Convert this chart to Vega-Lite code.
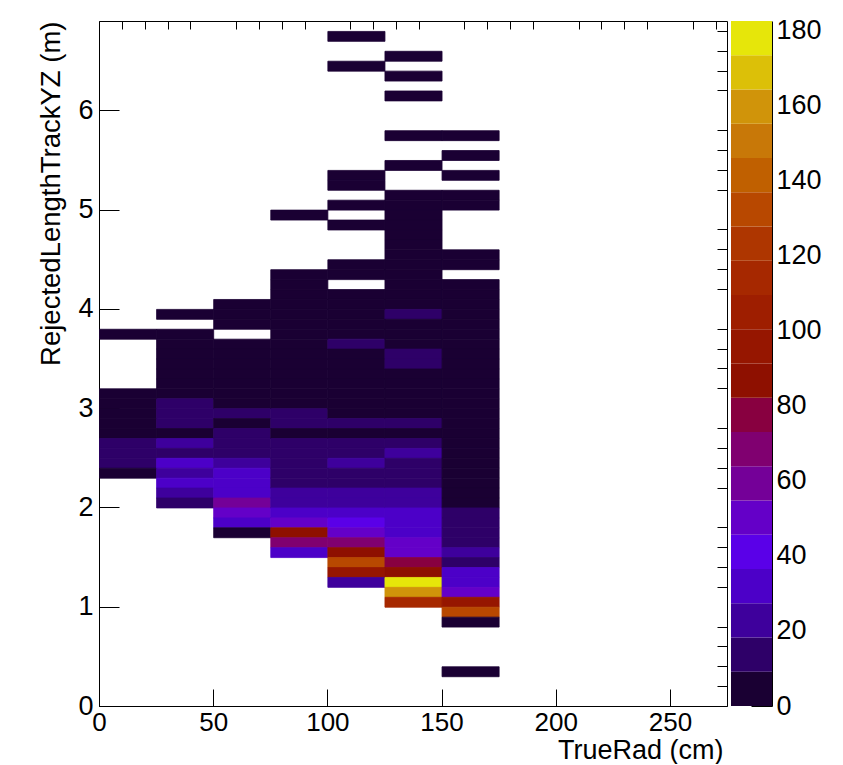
{
  "$schema": "https://vega.github.io/schema/vega-lite/v6.json",
  "background": "white",
  "padding": {"left": 36, "top": 16, "right": 0, "bottom": 0},
  "bounds": "flush",
  "spacing": 4,
  "config": {
    "font": "Liberation Sans",
    "view": {"stroke": null},
    "axis": {
      "labelFont": "Liberation Sans",
      "titleFont": "Liberation Sans",
      "labelFontSize": 27,
      "titleFontSize": 27.5,
      "titleFontWeight": "normal",
      "labelColor": "black",
      "titleColor": "black",
      "tickColor": "black",
      "domainColor": "black",
      "grid": false,
      "labelFlush": false,
      "labelOverlap": false,
      "zindex": 1
    }
  },
  "datasets": {
    "hist": [
      {"r": 0, "l": 3.7, "n": 2}, {"r": 0, "l": 3.1, "n": 3}, {"r": 0, "l": 3.0, "n": 5}, {"r": 0, "l": 2.9, "n": 6},
      {"r": 0, "l": 2.8, "n": 4}, {"r": 0, "l": 2.7, "n": 7}, {"r": 0, "l": 2.6, "n": 13}, {"r": 0, "l": 2.5, "n": 15},
      {"r": 0, "l": 2.4, "n": 14}, {"r": 0, "l": 2.3, "n": 6},

      {"r": 25, "l": 3.9, "n": 1}, {"r": 25, "l": 3.7, "n": 2}, {"r": 25, "l": 3.6, "n": 3}, {"r": 25, "l": 3.5, "n": 3},
      {"r": 25, "l": 3.4, "n": 4}, {"r": 25, "l": 3.3, "n": 5}, {"r": 25, "l": 3.2, "n": 6}, {"r": 25, "l": 3.1, "n": 8},
      {"r": 25, "l": 3.0, "n": 12}, {"r": 25, "l": 2.9, "n": 14}, {"r": 25, "l": 2.8, "n": 13}, {"r": 25, "l": 2.7, "n": 8},
      {"r": 25, "l": 2.6, "n": 24}, {"r": 25, "l": 2.5, "n": 15}, {"r": 25, "l": 2.4, "n": 33}, {"r": 25, "l": 2.3, "n": 26},
      {"r": 25, "l": 2.2, "n": 34}, {"r": 25, "l": 2.1, "n": 25}, {"r": 25, "l": 2.0, "n": 16},

      {"r": 50, "l": 4.0, "n": 2}, {"r": 50, "l": 3.9, "n": 3}, {"r": 50, "l": 3.8, "n": 2}, {"r": 50, "l": 3.6, "n": 3},
      {"r": 50, "l": 3.5, "n": 4}, {"r": 50, "l": 3.4, "n": 5}, {"r": 50, "l": 3.3, "n": 5}, {"r": 50, "l": 3.2, "n": 6},
      {"r": 50, "l": 3.1, "n": 7}, {"r": 50, "l": 3.0, "n": 8}, {"r": 50, "l": 2.9, "n": 12}, {"r": 50, "l": 2.8, "n": 7},
      {"r": 50, "l": 2.7, "n": 14}, {"r": 50, "l": 2.6, "n": 15}, {"r": 50, "l": 2.5, "n": 16}, {"r": 50, "l": 2.4, "n": 24},
      {"r": 50, "l": 2.3, "n": 32}, {"r": 50, "l": 2.2, "n": 34}, {"r": 50, "l": 2.1, "n": 33}, {"r": 50, "l": 2.0, "n": 62},
      {"r": 50, "l": 1.9, "n": 50}, {"r": 50, "l": 1.8, "n": 35}, {"r": 50, "l": 1.7, "n": 5},

      {"r": 75, "l": 4.9, "n": 1}, {"r": 75, "l": 4.3, "n": 1}, {"r": 75, "l": 4.2, "n": 2}, {"r": 75, "l": 4.1, "n": 2},
      {"r": 75, "l": 4.0, "n": 3}, {"r": 75, "l": 3.9, "n": 3}, {"r": 75, "l": 3.8, "n": 4}, {"r": 75, "l": 3.7, "n": 4},
      {"r": 75, "l": 3.6, "n": 5}, {"r": 75, "l": 3.5, "n": 5}, {"r": 75, "l": 3.4, "n": 6}, {"r": 75, "l": 3.3, "n": 6},
      {"r": 75, "l": 3.2, "n": 7}, {"r": 75, "l": 3.1, "n": 8}, {"r": 75, "l": 3.0, "n": 8}, {"r": 75, "l": 2.9, "n": 12},
      {"r": 75, "l": 2.8, "n": 11}, {"r": 75, "l": 2.7, "n": 8}, {"r": 75, "l": 2.6, "n": 13}, {"r": 75, "l": 2.5, "n": 14},
      {"r": 75, "l": 2.4, "n": 15}, {"r": 75, "l": 2.3, "n": 16}, {"r": 75, "l": 2.2, "n": 17}, {"r": 75, "l": 2.1, "n": 24},
      {"r": 75, "l": 2.0, "n": 25}, {"r": 75, "l": 1.9, "n": 33}, {"r": 75, "l": 1.8, "n": 49}, {"r": 75, "l": 1.7, "n": 87},
      {"r": 75, "l": 1.6, "n": 70}, {"r": 75, "l": 1.5, "n": 34},

      {"r": 100, "l": 6.7, "n": 1}, {"r": 100, "l": 6.4, "n": 1}, {"r": 100, "l": 5.3, "n": 1}, {"r": 100, "l": 5.2, "n": 1},
      {"r": 100, "l": 5.0, "n": 1}, {"r": 100, "l": 4.8, "n": 1}, {"r": 100, "l": 4.4, "n": 2}, {"r": 100, "l": 4.3, "n": 2},
      {"r": 100, "l": 4.1, "n": 3}, {"r": 100, "l": 4.0, "n": 3}, {"r": 100, "l": 3.9, "n": 4}, {"r": 100, "l": 3.8, "n": 4},
      {"r": 100, "l": 3.7, "n": 5}, {"r": 100, "l": 3.6, "n": 11}, {"r": 100, "l": 3.5, "n": 6}, {"r": 100, "l": 3.4, "n": 6},
      {"r": 100, "l": 3.3, "n": 7}, {"r": 100, "l": 3.2, "n": 7}, {"r": 100, "l": 3.1, "n": 8}, {"r": 100, "l": 3.0, "n": 8},
      {"r": 100, "l": 2.9, "n": 9}, {"r": 100, "l": 2.8, "n": 12}, {"r": 100, "l": 2.7, "n": 8}, {"r": 100, "l": 2.6, "n": 14},
      {"r": 100, "l": 2.5, "n": 15}, {"r": 100, "l": 2.4, "n": 24}, {"r": 100, "l": 2.3, "n": 16}, {"r": 100, "l": 2.2, "n": 17},
      {"r": 100, "l": 2.1, "n": 25}, {"r": 100, "l": 2.0, "n": 26}, {"r": 100, "l": 1.9, "n": 33}, {"r": 100, "l": 1.8, "n": 41},
      {"r": 100, "l": 1.7, "n": 52}, {"r": 100, "l": 1.6, "n": 71}, {"r": 100, "l": 1.5, "n": 88}, {"r": 100, "l": 1.4, "n": 131},
      {"r": 100, "l": 1.3, "n": 100}, {"r": 100, "l": 1.2, "n": 25},

      {"r": 125, "l": 6.5, "n": 1}, {"r": 125, "l": 6.3, "n": 1}, {"r": 125, "l": 6.1, "n": 1}, {"r": 125, "l": 5.7, "n": 1},
      {"r": 125, "l": 5.4, "n": 1}, {"r": 125, "l": 5.1, "n": 2}, {"r": 125, "l": 5.0, "n": 2}, {"r": 125, "l": 4.9, "n": 2},
      {"r": 125, "l": 4.8, "n": 3}, {"r": 125, "l": 4.7, "n": 3}, {"r": 125, "l": 4.6, "n": 3}, {"r": 125, "l": 4.5, "n": 3},
      {"r": 125, "l": 4.4, "n": 4}, {"r": 125, "l": 4.3, "n": 4}, {"r": 125, "l": 4.2, "n": 4}, {"r": 125, "l": 4.1, "n": 5},
      {"r": 125, "l": 4.0, "n": 5}, {"r": 125, "l": 3.9, "n": 11}, {"r": 125, "l": 3.8, "n": 6}, {"r": 125, "l": 3.7, "n": 6},
      {"r": 125, "l": 3.6, "n": 7}, {"r": 125, "l": 3.5, "n": 12}, {"r": 125, "l": 3.4, "n": 11}, {"r": 125, "l": 3.3, "n": 7},
      {"r": 125, "l": 3.2, "n": 7}, {"r": 125, "l": 3.1, "n": 8}, {"r": 125, "l": 3.0, "n": 8}, {"r": 125, "l": 2.9, "n": 9},
      {"r": 125, "l": 2.8, "n": 12}, {"r": 125, "l": 2.7, "n": 8}, {"r": 125, "l": 2.6, "n": 13}, {"r": 125, "l": 2.5, "n": 24},
      {"r": 125, "l": 2.4, "n": 14}, {"r": 125, "l": 2.3, "n": 15}, {"r": 125, "l": 2.2, "n": 16}, {"r": 125, "l": 2.1, "n": 25},
      {"r": 125, "l": 2.0, "n": 26}, {"r": 125, "l": 1.9, "n": 33}, {"r": 125, "l": 1.8, "n": 32}, {"r": 125, "l": 1.7, "n": 34},
      {"r": 125, "l": 1.6, "n": 51}, {"r": 125, "l": 1.5, "n": 53}, {"r": 125, "l": 1.4, "n": 78}, {"r": 125, "l": 1.3, "n": 88},
      {"r": 125, "l": 1.2, "n": 182}, {"r": 125, "l": 1.1, "n": 160}, {"r": 125, "l": 1.0, "n": 113},

      {"r": 150, "l": 5.7, "n": 1}, {"r": 150, "l": 5.5, "n": 1}, {"r": 150, "l": 5.3, "n": 1}, {"r": 150, "l": 5.1, "n": 1},
      {"r": 150, "l": 5.0, "n": 1}, {"r": 150, "l": 4.5, "n": 1}, {"r": 150, "l": 4.4, "n": 1}, {"r": 150, "l": 4.2, "n": 2},
      {"r": 150, "l": 4.1, "n": 2}, {"r": 150, "l": 4.0, "n": 2}, {"r": 150, "l": 3.9, "n": 3}, {"r": 150, "l": 3.8, "n": 3},
      {"r": 150, "l": 3.7, "n": 3}, {"r": 150, "l": 3.6, "n": 4}, {"r": 150, "l": 3.5, "n": 4}, {"r": 150, "l": 3.4, "n": 4},
      {"r": 150, "l": 3.3, "n": 5}, {"r": 150, "l": 3.2, "n": 5}, {"r": 150, "l": 3.1, "n": 5}, {"r": 150, "l": 3.0, "n": 6},
      {"r": 150, "l": 2.9, "n": 6}, {"r": 150, "l": 2.8, "n": 6}, {"r": 150, "l": 2.7, "n": 7}, {"r": 150, "l": 2.6, "n": 7},
      {"r": 150, "l": 2.5, "n": 7}, {"r": 150, "l": 2.4, "n": 8}, {"r": 150, "l": 2.3, "n": 8}, {"r": 150, "l": 2.2, "n": 8},
      {"r": 150, "l": 2.1, "n": 8}, {"r": 150, "l": 2.0, "n": 8}, {"r": 150, "l": 1.9, "n": 12}, {"r": 150, "l": 1.8, "n": 13},
      {"r": 150, "l": 1.7, "n": 14}, {"r": 150, "l": 1.6, "n": 13}, {"r": 150, "l": 1.5, "n": 22}, {"r": 150, "l": 1.4, "n": 14},
      {"r": 150, "l": 1.3, "n": 32}, {"r": 150, "l": 1.2, "n": 33}, {"r": 150, "l": 1.1, "n": 50}, {"r": 150, "l": 1.0, "n": 96},
      {"r": 150, "l": 0.9, "n": 132}, {"r": 150, "l": 0.8, "n": 5}, {"r": 150, "l": 0.3, "n": 1}
    ],
    "palette": [
      {"lo": 0, "hi": 9.12}, {"lo": 9.12, "hi": 18.24}, {"lo": 18.24, "hi": 27.36}, {"lo": 27.36, "hi": 36.48},
      {"lo": 36.48, "hi": 45.6}, {"lo": 45.6, "hi": 54.72}, {"lo": 54.72, "hi": 63.84}, {"lo": 63.84, "hi": 72.96},
      {"lo": 72.96, "hi": 82.08}, {"lo": 82.08, "hi": 91.2}, {"lo": 91.2, "hi": 100.32}, {"lo": 100.32, "hi": 109.44},
      {"lo": 109.44, "hi": 118.56}, {"lo": 118.56, "hi": 127.68}, {"lo": 127.68, "hi": 136.8}, {"lo": 136.8, "hi": 145.92},
      {"lo": 145.92, "hi": 155.04}, {"lo": 155.04, "hi": 164.16}, {"lo": 164.16, "hi": 173.28}, {"lo": 173.28, "hi": 182.4}
    ]
  },
  "hconcat": [
    {
      "width": 628,
      "height": 685,
      "view": {"stroke": "black", "strokeWidth": 1},
      "data": {"name": "hist"},
      "layer": [
        {
          "mark": {"type": "rect", "strokeWidth": 0.8},
          "encoding": {
            "x": {
              "field": "r", "type": "quantitative",
              "bin": {"binned": true, "step": 25},
              "scale": {"domain": [0, 275], "nice": false, "zero": false},
              "axis": {
                "title": "TrueRad (cm)",
                "values": [0, 50, 100, 150, 200, 250],
                "format": "d",
                "tickSize": -17,
                "labelFontSize": 26,
                "labelPadding": 20,
                "labelAlign": "center",
                "labelBaseline": "top",
                "domain": true,
                "titleFontSize": 27,
                "titleAlign": "right",
                "titleAnchor": "end",
                "titleBaseline": "alphabetic",
                "titleX": 624,
                "titleY": 52
              }
            },
            "y": {
              "field": "l", "type": "quantitative",
              "bin": {"binned": true, "step": 0.1},
              "scale": {"domain": [0, 6.9], "nice": false, "zero": false},
              "axis": {
                "title": "RejectedLengthTrackYZ (m)",
                "values": [0, 1, 2, 3, 4, 5, 6],
                "format": "d",
                "tickSize": -20,
                "labelPadding": 26,
                "labelAlign": "right",
                "labelBaseline": "middle",
                "domain": true,
                "titleAngle": 270,
                "titleAlign": "right",
                "titleAnchor": "end",
                "titleBaseline": "alphabetic",
                "titleX": -40,
                "titleY": 0
              }
            },
            "color": {
              "field": "n", "type": "quantitative",
              "scale": {
                "type": "threshold",
                "domain": [9.12, 18.24, 27.36, 36.48, 45.6, 54.72, 63.84, 72.96, 82.08, 91.2, 100.32, 109.44, 118.56, 127.68, 136.8, 145.92, 155.04, 164.16, 173.28],
                "range": ["#1a0033", "#2e0068", "#3e009c", "#4c00c8", "#5a00e8", "#6400c8", "#740098", "#800070", "#880040", "#8e1000", "#961600", "#9e1e00", "#a62800", "#ae3600", "#b84800", "#c06000", "#c87808", "#d0940a", "#dcc008", "#e6e60a"]
              },
              "legend": null
            },
            "stroke": {
              "field": "n", "type": "quantitative",
              "scale": {
                "type": "threshold",
                "domain": [9.12, 18.24, 27.36, 36.48, 45.6, 54.72, 63.84, 72.96, 82.08, 91.2, 100.32, 109.44, 118.56, 127.68, 136.8, 145.92, 155.04, 164.16, 173.28],
                "range": ["#1a0033", "#2e0068", "#3e009c", "#4c00c8", "#5a00e8", "#6400c8", "#740098", "#800070", "#880040", "#8e1000", "#961600", "#9e1e00", "#a62800", "#ae3600", "#b84800", "#c06000", "#c87808", "#d0940a", "#dcc008", "#e6e60a"]
              },
              "legend": null
            }
          }
        },
        {
          "mark": {"type": "rect", "opacity": 0},
          "encoding": {
            "x": {
              "field": "r", "type": "quantitative",
              "bin": {"binned": true, "step": 25},
              "axis": {
                "title": null, "labels": false, "domain": false, "tickSize": -8,
                "values": [10, 20, 30, 40, 60, 70, 80, 90, 110, 120, 130, 140, 160, 170, 180, 190, 210, 220, 230, 240, 260, 270]
              }
            },
            "y": {
              "field": "l", "type": "quantitative",
              "bin": {"binned": true, "step": 0.1},
              "axis": {
                "title": null, "labels": false, "domain": false, "tickSize": -10,
                "values": [0.2, 0.4, 0.6, 0.8, 1.2, 1.4, 1.6, 1.8, 2.2, 2.4, 2.6, 2.8, 3.2, 3.4, 3.6, 3.8, 4.2, 4.4, 4.6, 4.8, 5.2, 5.4, 5.6, 5.8, 6.2, 6.4, 6.6, 6.8]
              }
            }
          }
        }
      ],
      "resolve": {"axis": {"x": "independent", "y": "independent"}}
    },
    {
      "width": 41,
      "height": 685,
      "data": {"name": "palette"},
      "mark": {"type": "rect", "strokeWidth": 0.4},
      "encoding": {
        "y": {
          "field": "lo", "type": "quantitative",
          "scale": {"domain": [0, 182.4], "nice": false, "zero": false},
          "axis": {
            "orient": "right",
            "title": null,
            "values": [0, 20, 40, 60, 80, 100, 120, 140, 160, 180],
            "format": "d",
            "tickSize": -21,
            "labelPadding": 25,
            "labelAlign": "left",
            "labelBaseline": "middle",
            "domain": true
          }
        },
        "y2": {"field": "hi"},
        "color": {
          "field": "lo", "type": "quantitative",
          "scale": {
            "type": "threshold",
            "domain": [9.12, 18.24, 27.36, 36.48, 45.6, 54.72, 63.84, 72.96, 82.08, 91.2, 100.32, 109.44, 118.56, 127.68, 136.8, 145.92, 155.04, 164.16, 173.28],
            "range": ["#1a0033", "#2e0068", "#3e009c", "#4c00c8", "#5a00e8", "#6400c8", "#740098", "#800070", "#880040", "#8e1000", "#961600", "#9e1e00", "#a62800", "#ae3600", "#b84800", "#c06000", "#c87808", "#d0940a", "#dcc008", "#e6e60a"]
          },
          "legend": null
        }
      }
    }
  ],
  "resolve": {"scale": {"color": "independent", "stroke": "independent"}}
}
